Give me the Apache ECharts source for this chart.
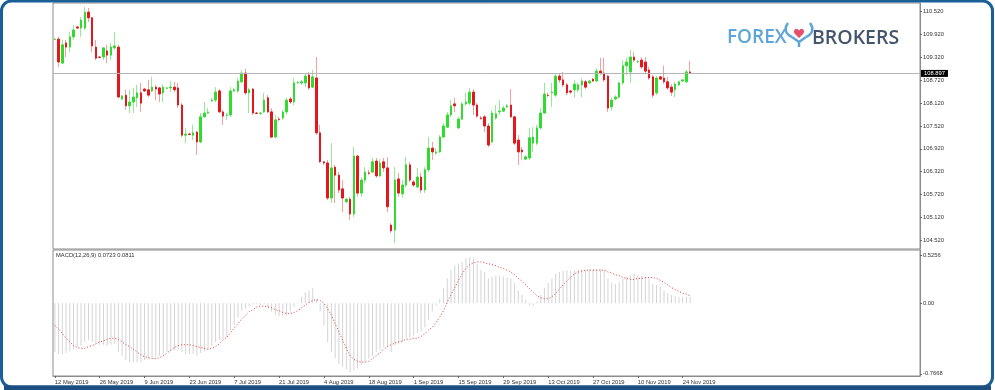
<!DOCTYPE html>
<html><head><meta charset="utf-8">
<script src="https://cdn.jsdelivr.net/npm/echarts@6/dist/echarts.min.js"></script>
<style>html,body{margin:0;padding:0;background:#fff}#c{width:995px;height:390px}</style>
</head><body><div id="c"></div>
<script>
// ---- data (USD/JPY daily) ----
const opens = [109.79,109.80,109.17,109.70,109.59,109.86,110.12,110.09,110.09,110.51,
110.36,109.59,109.33,109.33,109.49,109.38,109.57,109.59,108.23,108.33,
108.05,108.15,108.26,108.39,108.49,108.47,108.44,108.54,108.52,108.39,
108.51,108.52,108.54,108.52,108.07,107.28,107.31,107.28,107.36,107.10,
107.76,107.86,108.18,108.20,108.44,107.89,107.80,107.81,108.44,108.44,
108.68,108.91,108.39,108.49,107.86,107.85,107.89,108.26,107.89,107.23,
107.70,107.73,107.89,108.23,108.15,108.65,108.65,108.65,108.86,108.54,
108.78,107.34,106.58,106.55,105.63,106.44,106.23,105.87,105.53,105.60,
105.21,106.73,105.76,106.10,106.29,106.31,106.60,106.21,106.58,106.42,
104.92,104.79,106.13,105.74,105.97,106.50,106.05,105.92,106.18,105.84,
106.37,106.94,106.81,106.84,107.23,107.49,107.81,108.10,107.47,107.70,
108.10,108.12,108.41,108.07,107.73,107.76,107.52,107.10,107.73,107.89,
107.91,108.02,108.07,107.76,107.15,106.89,106.65,106.68,107.07,107.07,
107.47,107.86,108.33,108.39,108.33,108.83,108.73,108.60,108.44,108.47,
108.47,108.60,108.68,108.65,108.75,108.70,108.96,108.91,108.83,108.02,
108.23,108.28,108.65,109.10,108.94,109.33,109.20,109.25,109.20,108.99,
108.81,108.39,108.81,108.78,108.68,108.54,108.47,108.60,108.70,108.68,
108.94];
const closes = [109.80,109.20,109.65,109.59,109.86,110.04,110.09,110.30,110.51,110.36,
109.62,109.30,109.32,109.57,109.38,109.59,109.62,108.28,108.31,108.05,
108.15,108.28,108.39,108.12,108.44,108.33,108.54,108.49,108.36,108.54,
108.52,108.54,108.47,108.07,107.28,107.31,107.30,107.34,107.10,107.76,
107.86,107.89,108.20,108.41,107.89,107.78,107.81,108.44,108.47,108.70,
108.91,108.39,108.47,107.86,107.85,107.86,108.20,107.89,107.23,107.68,
107.69,107.89,108.20,108.15,108.65,108.66,108.68,108.83,108.52,108.81,
107.34,106.58,106.55,105.63,106.42,106.23,105.84,105.63,105.60,105.21,
106.73,105.76,106.10,106.31,106.28,106.58,106.21,106.55,106.42,105.40,
104.77,106.10,105.76,105.97,106.50,106.10,105.97,106.18,105.84,106.37,
106.94,106.84,106.84,107.23,107.52,107.81,108.05,108.05,107.70,108.10,
108.15,108.41,108.07,107.78,107.72,107.52,107.02,107.86,107.84,107.91,
107.99,108.05,107.76,107.07,106.84,106.84,106.71,107.21,107.23,107.47,
107.86,108.36,108.32,108.41,108.83,108.73,108.60,108.39,108.41,108.62,
108.60,108.70,108.54,108.70,108.70,108.96,108.91,108.73,107.99,108.20,
108.28,108.65,109.10,109.20,109.33,109.25,109.21,109.07,108.96,108.78,
108.33,108.78,108.75,108.68,108.52,108.41,108.62,108.68,108.73,108.94,
108.897];
const lows = [109.78,109.07,109.15,109.33,109.46,109.78,110.07,109.86,110.04,110.25,
109.46,109.25,109.30,109.25,109.17,109.25,109.52,108.26,108.20,107.94,
107.86,107.86,108.02,107.89,108.41,108.28,108.41,108.20,108.15,108.15,
108.49,108.41,108.41,107.99,107.23,107.07,107.28,107.15,106.76,107.07,
107.73,107.84,108.15,108.15,107.86,107.55,107.68,107.76,108.41,108.39,
108.65,108.33,107.86,107.81,107.84,107.81,107.86,107.86,107.21,107.21,
107.65,107.68,107.81,108.10,108.07,108.62,108.60,108.54,108.47,108.52,
107.28,106.55,106.50,105.58,105.50,105.50,105.76,105.26,105.50,105.05,
105.13,105.66,105.66,106.02,106.23,106.29,106.16,106.18,106.31,105.26,
104.71,104.45,105.66,105.63,105.92,106.05,105.92,105.89,105.76,105.76,
106.31,106.63,106.76,106.81,107.21,107.47,107.76,107.89,107.44,107.68,
108.05,108.07,107.81,107.73,107.68,107.36,106.97,107.07,107.68,107.81,
107.89,107.99,107.73,107.02,106.50,106.63,106.63,106.63,106.84,107.02,
107.42,107.84,108.28,108.02,108.28,108.65,108.54,108.33,108.36,108.26,
108.41,108.28,108.49,108.62,108.68,108.68,108.86,108.68,107.89,107.92,
108.20,108.23,108.60,108.86,108.65,109.20,109.17,109.02,108.91,108.73,
108.26,108.33,108.73,108.62,108.47,108.31,108.28,108.57,108.68,108.65,
108.88];
const highs = [109.83,109.86,109.78,109.78,109.99,110.17,110.14,110.38,110.64,110.62,
110.38,109.78,109.36,109.59,109.65,109.70,109.99,109.65,108.33,108.47,
108.47,108.52,108.60,108.65,108.52,108.73,108.81,108.60,108.54,108.60,
108.54,108.70,108.68,108.65,108.12,107.47,107.34,107.55,107.39,107.86,
108.15,107.99,108.26,108.54,108.49,107.94,107.86,108.54,108.52,108.78,
108.99,109.02,108.52,108.52,107.89,107.89,108.39,108.33,107.99,107.81,
107.76,107.94,108.26,108.28,108.78,108.70,108.73,108.91,108.94,108.99,
109.33,107.55,106.60,106.63,107.07,106.50,106.31,106.10,105.63,105.66,
106.97,106.76,106.18,106.44,106.37,106.68,106.68,106.65,106.68,106.71,
104.97,106.44,106.29,106.10,106.71,106.58,106.10,106.42,106.29,106.44,
107.23,107.10,106.94,107.28,107.60,107.89,108.20,108.26,107.76,108.15,
108.39,108.52,108.49,108.12,107.78,107.81,107.60,107.94,108.07,108.20,
108.05,108.10,108.49,107.78,107.28,106.97,106.76,107.47,107.49,107.55,
107.99,108.65,108.39,108.65,108.91,108.89,108.94,108.65,108.47,108.73,
108.65,108.78,108.73,108.73,108.78,109.04,109.31,109.31,108.86,108.28,
108.33,108.68,109.25,109.31,109.52,109.46,109.25,109.33,109.33,109.07,
108.86,108.83,108.83,109.10,108.81,108.62,108.68,108.70,108.75,108.99,
109.23];
const macdMain = [-0.53,-0.55,-0.55,-0.54,-0.52,-0.50,-0.47,-0.46,-0.42,-0.40,
-0.42,-0.44,-0.45,-0.45,-0.46,-0.45,-0.44,-0.53,-0.57,-0.62,
-0.64,-0.64,-0.64,-0.64,-0.62,-0.61,-0.59,-0.58,-0.57,-0.55,
-0.53,-0.52,-0.51,-0.51,-0.53,-0.55,-0.55,-0.55,-0.57,-0.54,
-0.52,-0.49,-0.46,-0.42,-0.40,-0.39,-0.37,-0.29,-0.24,-0.15,
-0.08,-0.06,-0.03,-0.01,-0.01,-0.02,-0.01,-0.04,-0.09,-0.13,
-0.14,-0.14,-0.13,-0.09,-0.04,0.01,0.07,0.12,0.14,0.17,
0.05,-0.09,-0.24,-0.42,-0.53,-0.60,-0.66,-0.69,-0.72,-0.75,
-0.73,-0.71,-0.67,-0.64,-0.60,-0.57,-0.53,-0.51,-0.47,-0.47,
-0.53,-0.46,-0.44,-0.42,-0.38,-0.37,-0.35,-0.32,-0.30,-0.26,
-0.18,-0.09,-0.02,0.05,0.16,0.27,0.36,0.41,0.43,0.45,
0.49,0.50,0.49,0.43,0.36,0.34,0.27,0.29,0.30,0.30,
0.29,0.28,0.27,0.22,0.14,0.09,0.04,-0.02,-0.03,0.02,
0.09,0.17,0.22,0.27,0.32,0.34,0.35,0.36,0.35,0.36,
0.36,0.37,0.36,0.37,0.37,0.37,0.37,0.36,0.27,0.22,
0.21,0.23,0.27,0.29,0.31,0.32,0.31,0.30,0.29,0.27,
0.21,0.20,0.18,0.14,0.11,0.09,0.08,0.07,0.07,0.07,
0.0723];
const macdSignal = [-0.24,-0.28,-0.33,-0.38,-0.42,-0.46,-0.48,-0.49,-0.49,-0.47,
-0.46,-0.44,-0.42,-0.41,-0.39,-0.38,-0.38,-0.39,-0.42,-0.45,
-0.47,-0.50,-0.53,-0.56,-0.58,-0.59,-0.60,-0.60,-0.59,-0.57,
-0.54,-0.51,-0.48,-0.46,-0.45,-0.45,-0.45,-0.46,-0.47,-0.48,
-0.49,-0.50,-0.49,-0.47,-0.44,-0.40,-0.37,-0.32,-0.27,-0.22,
-0.17,-0.13,-0.09,-0.07,-0.04,-0.03,-0.03,-0.04,-0.05,-0.07,
-0.08,-0.10,-0.11,-0.11,-0.10,-0.08,-0.05,-0.02,0.01,0.03,
0.04,0.03,0.00,-0.06,-0.13,-0.22,-0.31,-0.40,-0.49,-0.57,
-0.61,-0.63,-0.64,-0.64,-0.63,-0.60,-0.57,-0.54,-0.50,-0.47,
-0.45,-0.43,-0.42,-0.41,-0.39,-0.39,-0.38,-0.38,-0.36,-0.33,
-0.29,-0.26,-0.21,-0.15,-0.08,0.01,0.09,0.17,0.25,0.32,
0.38,0.42,0.44,0.45,0.45,0.44,0.43,0.42,0.41,0.39,
0.38,0.36,0.34,0.31,0.27,0.24,0.20,0.16,0.12,0.08,
0.06,0.05,0.05,0.07,0.11,0.15,0.20,0.24,0.28,0.32,
0.34,0.35,0.36,0.36,0.36,0.36,0.36,0.36,0.34,0.33,
0.31,0.30,0.28,0.27,0.26,0.26,0.27,0.27,0.28,0.28,
0.28,0.27,0.25,0.23,0.20,0.17,0.15,0.13,0.11,0.10,
0.0811];
const xTickLabels = ['12 May 2019','26 May 2019','9 Jun 2019','23 Jun 2019','7 Jul 2019','21 Jul 2019','4 Aug 2019','18 Aug 2019','1 Sep 2019','15 Sep 2019','29 Sep 2019','13 Oct 2019','27 Oct 2019','10 Nov 2019','24 Nov 2019'];
const barsPerTick = 12;          // bars between date labels (6 bars a week)
const totalSlots = 232;          // bar slots incl. empty chart shift on the right
const priceTicks = [104.52,105.12,105.72,106.32,106.92,107.52,108.12,108.72,109.32,109.92,110.52];
const macdTicks = [0.5256, 0, -0.7668];
const macdTickLabels = ['0.5256','0.00','-0.7668'];
const lastPrice = 108.897;
const macdTitle = 'MACD(12,26,9) 0.0723 0.0811';

// ---- chart ----
const slots = [];
for (let i = 0; i < totalSlots; i++) slots.push(String(i));
const wickData = opens.map((o, i) => [o, closes[i], lows[i], highs[i]]);
const bodyData = opens.map((o, i) => [o, closes[i], Math.min(o, closes[i]), Math.max(o, closes[i])]);
const FONT = 'Liberation Sans';
const txt = { fontFamily: FONT, fontSize: 5.8, color: '#333' };
const tickShown = (idx) => idx % barsPerTick === 0 && idx / barsPerTick < xTickLabels.length;
const LOGO_BLUE = '#5ea6d6';

const chart = echarts.init(document.getElementById('c'), null, { renderer: 'canvas' });
chart.setOption({
  animation: false,
  backgroundColor: '#fff',
  grid: [
    { left: 53, right: 75, top: 3, height: 246, show: true, borderColor: '#8c8c8c', borderWidth: 1 },
    { left: 53, right: 75, top: 250, height: 126, show: true, borderColor: '#8c8c8c', borderWidth: 1 }
  ],
  xAxis: [
    { type: 'category', gridIndex: 0, data: slots, boundaryGap: true,
      axisLine: { show: false, onZero: false }, axisTick: { show: false }, axisLabel: { show: false }, splitLine: { show: false } },
    { type: 'category', gridIndex: 1, data: slots, boundaryGap: true,
      axisLine: { show: true, onZero: false, lineStyle: { color: '#8c8c8c' } },
      axisTick: { show: true, alignWithLabel: true, interval: tickShown, length: 2, lineStyle: { color: '#666' } },
      axisLabel: Object.assign({ interval: tickShown, align: 'left', margin: 3,
        formatter: (v, idx) => xTickLabels[idx / barsPerTick] }, txt),
      splitLine: { show: false } }
  ],
  yAxis: [
    { type: 'value', gridIndex: 0, position: 'right', min: 104.292, max: 110.748,
      axisLine: { show: true, lineStyle: { color: '#8c8c8c' } },
      axisTick: { show: true, customValues: priceTicks, length: 2, lineStyle: { color: '#666' } },
      axisLabel: Object.assign({ customValues: priceTicks, margin: 3, formatter: v => v.toFixed(3) }, txt),
      splitLine: { show: false } },
    { type: 'value', gridIndex: 1, position: 'right', min: -0.790, max: 0.5793,
      axisLine: { show: true, lineStyle: { color: '#8c8c8c' } },
      axisTick: { show: true, customValues: macdTicks, length: 2, lineStyle: { color: '#666' } },
      axisLabel: Object.assign({ customValues: macdTicks, margin: 3,
        formatter: v => macdTickLabels[macdTicks.indexOf(v)] !== undefined ? macdTickLabels[macdTicks.indexOf(v)] : '' }, txt),
      splitLine: { show: false } }
  ],
  series: [
    { type: 'candlestick', name: 'wicks', xAxisIndex: 0, yAxisIndex: 0, data: wickData, barWidth: 1,
      itemStyle: { color: '#95ea95', color0: '#f2a0a0', borderColor: '#95ea95', borderColor0: '#f2a0a0', borderWidth: 1 } },
    { type: 'candlestick', name: 'bodies', xAxisIndex: 0, yAxisIndex: 0, data: bodyData, barWidth: 2,
      itemStyle: { color: '#2fdc2f', color0: '#e5161d', borderColor: '#2fdc2f', borderColor0: '#e5161d', borderWidth: 1 },
      markLine: { symbol: 'none', silent: true, animation: false, data: [{ yAxis: lastPrice }],
        lineStyle: { color: '#b5b5b5', width: 1, type: 'solid' },
        label: { show: true, position: 'end', distance: 1, formatter: lastPrice.toFixed(3), backgroundColor: '#000',
          color: '#fff', fontFamily: FONT, fontSize: 5.8, padding: [1, 3, 0, 3] } } },
    { type: 'bar', name: 'MACD', xAxisIndex: 1, yAxisIndex: 1, data: macdMain, barWidth: 1,
      itemStyle: { color: '#d4d4d4' } },
    { type: 'line', name: 'Signal', xAxisIndex: 1, yAxisIndex: 1, data: macdSignal, showSymbol: false,
      lineStyle: { color: '#e03b3b', width: 1, type: [1, 2] } }
  ],
  graphic: [
    { type: 'text', left: 56, top: 252, style: { text: macdTitle, fontFamily: FONT, fontSize: 5.8, fill: '#333' } },
    { type: 'text', left: 727, top: 28, style: { text: 'FOREX', fontFamily: 'Open Sans', fontWeight: 600, fontSize: 19, fill: LOGO_BLUE } },
    { type: 'text', left: 812, top: 28, style: { text: 'BROKERS', fontFamily: 'Open Sans', fontWeight: 600, fontSize: 19.5, fill: '#44566a' } },
    { type: 'bezierCurve', shape: { x1: 792, y1: 37, cpx1: 785, cpy1: 34, cpx2: 784, cpy2: 28, x2: 788, y2: 23 },
      style: { stroke: LOGO_BLUE, lineWidth: 2.5, fill: null } },
    { type: 'bezierCurve', shape: { x1: 806, y1: 37, cpx1: 813, cpy1: 34, cpx2: 814, cpy2: 28, x2: 810, y2: 23 },
      style: { stroke: LOGO_BLUE, lineWidth: 2.5, fill: null } },
    { type: 'polyline', shape: { points: [[792, 37], [799, 42], [806, 37]] }, style: { stroke: LOGO_BLUE, lineWidth: 2.5, fill: null } },
    { type: 'line', shape: { x1: 799, y1: 42, x2: 799, y2: 47 }, style: { stroke: LOGO_BLUE, lineWidth: 2.5 } },
    { type: 'polygon', shape: { points: [[799, 38], [794.5, 33.5], [793.8, 31], [795.3, 29], [797.5, 29], [799, 30.5], [800.5, 29], [802.7, 29], [804.2, 31], [803.5, 33.5]] },
      style: { fill: '#e4506c' } },
    { type: 'rect', shape: { x: 1.5, y: 1, width: 991, height: 386, r: 10 }, style: { fill: null, stroke: '#1b5f97', lineWidth: 3 } },
    { type: 'rect', shape: { x: 4, y: 385.5, width: 987, height: 4.5 }, style: { fill: '#1a4f80' } }
  ]
});
</script>
</body></html>
